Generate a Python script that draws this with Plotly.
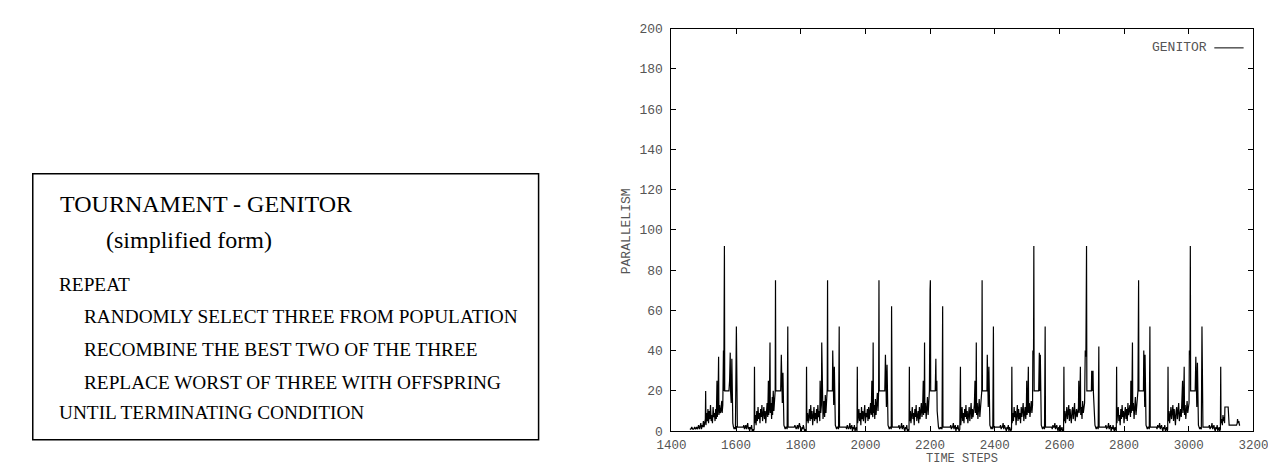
import plotly.graph_objects as go

# ---------------- data ----------------
t_c1 = [1457,1460,1463,1466,1469,1472,1475,1478,1481,1484,1487,1489,1491,1493,1495,1497,1499,1501,1503,1505,1506,1507,1509,1511,1513,1515,1517,1519,1521,1523,1525,1527,1529,1531,1533,1535,1537,1539,1541,1542,1544,1546,1547,1549,1551,1553,1555,1556,1557,1559,1561,1562,1564,1565,1576,1578,1580,1582,1583,1585,1587,1588,1590,1592,1594,1596,1598,1601,1602,1604,1610,1616,1620,1622,1624,1626,1628,1630,1632,1634,1636,1638,1640,1642,1644,1646,1648,1650,1652,1654]
v_c1 = [1,1,2,1,1,2,1,2,1,3,1,2,4,1,3,2,5,2,4,6,20,3,9,5,11,4,10,6,13,5,8,4,12,7,9,5,11,6,25,7,12,37,8,13,9,10,14,15,9,13,40,20,92,20,20,20,25,39,20,14,36,10,4,2,1,2,1,52,2,2,2,2,2,2,3,1,2,3,1,2,4,1,2,0,2,1,3,0,1,0]

t_c2 = [1656,1657,1658,1660,1662,1664,1666,1668,1670,1672,1674,1676,1678,1680,1682,1684,1686,1688,1690,1692,1694,1696,1698,1700,1701,1703,1705,1706,1708,1710,1712,1713,1715,1717,1719,1721,1722,1723,1734,1736,1738,1740,1741,1743,1745,1746,1748,1750,1752,1754,1756,1758,1760,1761,1763,1770,1776,1780,1782,1784,1786,1788,1790,1792,1794,1796,1798,1800,1802,1804,1806,1808,1810,1812,1814,1816]
v_c2 = [1,32,4,8,3,10,5,12,6,9,4,11,7,13,5,8,12,6,10,4,9,14,7,25,8,12,44,9,14,6,17,8,20,10,15,20,75,20,20,20,20,38,20,14,29,8,3,2,1,2,2,1,52,2,2,2,2,2,3,2,1,2,3,1,2,4,2,1,0,2,1,3,1,0,1,0]

t_c3 = [1817,1818,1819,1821,1823,1825,1827,1829,1831,1833,1835,1837,1839,1841,1843,1845,1847,1849,1851,1853,1855,1857,1859,1860,1862,1864,1865,1867,1869,1871,1872,1874,1876,1878,1880,1882,1883,1884,1896,1898,1899,1900,1902,1904,1905,1907,1909,1911,1913,1915,1917,1919,1920,1922,1930,1936,1940,1942,1944,1946,1948,1950,1952,1954,1956,1958,1960,1962,1964,1966,1968,1970,1972,1974]
v_c3 = [0,32,5,9,4,7,11,5,13,6,10,3,8,12,5,9,6,11,4,13,7,10,5,25,9,13,44,10,6,12,15,7,18,9,14,21,75,20,20,20,40,20,13,32,9,3,2,1,2,2,1,52,2,2,2,2,2,1,3,2,1,2,4,1,2,3,0,2,1,3,0,1,2,0]

t_c4 = [1975,1976,1978,1980,1982,1984,1986,1988,1990,1992,1994,1996,1998,2000,2002,2004,2006,2008,2010,2012,2014,2016,2018,2020,2021,2023,2024,2025,2027,2029,2031,2033,2035,2037,2039,2041,2042,2043,2056,2058,2060,2062,2063,2065,2067,2068,2070,2072,2074,2076,2078,2080,2081,2083,2090,2096,2100,2102,2104,2106,2108,2110,2112,2114,2116,2118,2120,2122,2124,2126,2128,2130,2132,2134]
v_c4 = [32,4,7,11,5,9,3,12,6,10,5,8,13,4,9,7,11,5,12,6,9,14,8,25,10,7,44,9,13,6,16,8,12,19,10,20,75,20,20,20,20,38,20,12,33,8,3,2,1,2,2,1,62,2,2,2,2,2,3,1,2,2,4,1,2,3,1,0,2,1,3,0,1,0]

t_c5 = [2135,2136,2137,2139,2141,2143,2145,2147,2149,2151,2153,2155,2157,2159,2161,2163,2165,2167,2169,2171,2173,2175,2177,2179,2180,2182,2183,2184,2186,2188,2190,2192,2194,2196,2198,2200,2201,2202,2214,2216,2218,2219,2221,2222,2224,2226,2228,2230,2232,2234,2236,2237,2239,2240,2242,2250,2256,2260,2262,2264,2266,2268,2270,2272,2274,2276,2278,2280,2282,2284,2286,2288,2290,2292]
v_c5 = [1,32,5,10,4,8,12,6,9,3,11,7,13,5,8,10,4,12,6,9,14,7,11,25,8,12,44,9,14,6,10,17,8,13,20,70,75,20,20,20,36,20,25,10,3,2,1,2,2,1,2,1,62,2,2,2,2,2,2,3,1,2,2,4,1,2,3,0,2,1,3,1,0,1]

t_c6 = [2294,2295,2297,2299,2301,2303,2305,2307,2309,2311,2313,2315,2317,2319,2321,2323,2325,2327,2329,2331,2333,2335,2337,2339,2340,2342,2343,2344,2346,2348,2350,2352,2354,2356,2358,2360,2361,2362,2374,2376,2377,2378,2380,2382,2383,2385,2387,2389,2391,2393,2394,2396,2397,2399,2405,2412,2416,2418,2420,2422,2424,2426,2428,2430,2432,2434,2436,2438,2440,2442,2444,2446,2448,2450,2452]
v_c6 = [32,3,8,12,5,9,4,11,7,13,6,10,4,8,12,5,9,14,6,11,7,10,13,25,9,12,44,8,14,6,10,16,7,12,19,20,75,20,20,20,38,20,12,32,9,3,2,1,2,2,1,52,2,2,2,2,2,3,1,2,2,4,1,3,2,1,0,2,1,3,0,2,1,0,1]

t_c7 = [2453,2454,2456,2458,2460,2462,2464,2466,2468,2470,2472,2474,2476,2478,2480,2482,2484,2486,2488,2490,2492,2494,2496,2498,2499,2500,2502,2504,2505,2507,2509,2511,2513,2515,2517,2518,2520,2521,2522,2534,2536,2538,2539,2541,2542,2544,2546,2548,2550,2552,2554,2556,2557,2559,2565,2572,2576,2578,2580,2582,2584,2586,2588,2590,2592,2594,2596,2598,2600,2602,2604,2606,2608,2610,2612]
v_c7 = [32,4,9,5,12,7,10,3,8,13,5,11,6,9,4,12,7,10,14,5,9,12,6,13,25,8,11,32,9,14,7,10,15,9,13,40,38,92,20,20,20,39,20,38,11,3,2,1,2,2,1,52,2,2,2,2,2,1,3,2,2,4,1,2,3,1,0,2,1,3,0,1,2,0,1]

t_c8 = [2613,2614,2615,2617,2619,2621,2623,2625,2627,2629,2631,2633,2635,2637,2639,2641,2643,2645,2647,2649,2651,2653,2655,2657,2659,2660,2661,2663,2665,2666,2668,2670,2672,2674,2676,2678,2680,2682,2684,2685,2697,2699,2700,2701,2703,2704,2705,2706,2708,2710,2712,2714,2716,2718,2720,2722,2723,2725,2732,2738,2742,2744,2746,2748,2750,2752,2754,2756,2758,2760,2762,2764,2766,2768,2770,2772,2774,2776]
v_c8 = [0,32,5,10,4,8,12,6,9,13,5,11,7,4,10,12,6,9,14,5,8,11,7,10,12,25,9,13,32,8,12,6,15,9,11,14,40,37,92,20,20,20,30,20,28,30,20,15,6,3,2,1,2,2,1,42,2,2,2,2,2,3,1,2,2,4,1,2,3,0,2,1,3,1,0,2,1,0]

t_c9 = [2777,2778,2780,2782,2784,2786,2788,2790,2792,2794,2796,2798,2800,2802,2804,2806,2808,2810,2812,2814,2816,2818,2820,2821,2822,2824,2826,2827,2829,2831,2833,2835,2837,2839,2841,2843,2845,2846,2858,2860,2861,2862,2864,2865,2866,2868,2870,2872,2874,2876,2878,2880,2881,2883,2890,2896,2900,2902,2904,2906,2908,2910,2912,2914,2916,2918,2920,2922,2924,2926,2928,2930,2932,2934]
v_c9 = [32,4,9,12,5,8,3,11,6,13,7,10,4,9,12,6,11,5,14,8,10,13,7,25,9,12,44,10,14,6,11,17,8,13,19,20,75,20,20,20,40,20,12,38,9,3,2,1,2,2,1,52,2,2,2,2,2,1,3,2,2,4,1,2,3,1,0,2,1,3,0,1,2,0]

t_c10 = [2935,2936,2937,2939,2941,2943,2945,2947,2949,2951,2953,2955,2957,2959,2961,2963,2965,2967,2969,2971,2973,2975,2977,2979,2981,2982,2984,2986,2987,2989,2991,2993,2995,2997,2999,3001,3002,3004,3005,3006,3018,3020,3022,3023,3025,3027,3028,3030,3032,3034,3036,3039,3041,3042,3044,3050,3058,3062,3064,3066,3068,3070,3072,3074,3076,3078,3080,3082,3084,3086,3088,3090,3092,3094,3096,3098]
v_c10 = [1,32,5,10,4,8,12,6,9,13,5,11,7,3,10,12,6,9,14,5,8,11,7,13,25,9,12,32,8,13,6,10,15,9,12,14,40,38,92,20,20,20,37,20,12,34,9,3,2,1,2,1,52,2,2,2,2,2,3,1,2,2,4,1,2,3,1,0,2,1,3,0,1,2,0,1]

t_c11 = [3099,3100,3102,3104,3106,3108,3110,3111,3112,3122,3123,3125,3130,3135,3140,3145,3148,3150,3151,3153,3155,3157,3159]
v_c11 = [32,4,6,3,8,5,7,4,12,12,3,3,3,3,3,3,3,4,6,4,5,3,3]

series_name = "GENITOR"
x_title = "TIME STEPS"
y_title = "PARALLELISM"
x_ticks = [1400, 1600, 1800, 2000, 2200, 2400, 2600, 2800, 3000, 3200]
y_ticks = [0, 20, 40, 60, 80, 100, 120, 140, 160, 180, 200]

box_title = "TOURNAMENT - GENITOR"
box_subtitle = "(simplified form)"
box_lines = ["REPEAT",
             "RANDOMLY SELECT THREE FROM POPULATION",
             "RECOMBINE THE BEST TWO OF THE THREE",
             "REPLACE WORST OF THREE WITH OFFSPRING",
             "UNTIL TERMINATING CONDITION"]
box_indent = [False, True, True, True, False]

# ---------------- assemble ----------------
t_all, v_all = [], []
for t, v in [(t_c1, v_c1), (t_c2, v_c2), (t_c3, v_c3), (t_c4, v_c4), (t_c5, v_c5),
             (t_c6, v_c6), (t_c7, v_c7), (t_c8, v_c8), (t_c9, v_c9), (t_c10, v_c10),
             (t_c11, v_c11)]:
    t_all += t
    v_all += v

W, H = 1276, 467
def px(x):
    return x / W
def py(y):
    return 1 - y / H

fig = go.Figure()
fig.add_trace(go.Scatter(x=t_all, y=v_all, mode="lines", name=series_name,
                         line=dict(color="black", width=1.2), showlegend=False))

mono = "Liberation Mono, Courier New, monospace"
serif = "Liberation Serif, Times New Roman, serif"
lab_font = dict(family=mono, size=13, color="#555")
axis_common = dict(showline=True, linecolor="black", linewidth=1, mirror="allticks",
                   ticks="inside", ticklen=5, tickcolor="black", showgrid=False,
                   zeroline=False)

fig.update_layout(
    width=W, height=H, margin=dict(l=0, r=0, t=0, b=0),
    paper_bgcolor="white", plot_bgcolor="white",
    xaxis=dict(domain=[px(664), px(1260)], range=[1400, 3200], tickvals=x_ticks,
               ticklabelstandoff=2, tickfont=dict(family=mono, size=12.5, color="#555"),
               **axis_common),
    yaxis=dict(domain=[py(431), py(15)], range=[0, 200], tickvals=y_ticks,
               ticklabelstandoff=5, tickfont=lab_font, **axis_common),
)

# axis titles
fig.add_annotation(xref="paper", yref="paper", x=px(962), y=py(460), text=x_title,
                   showarrow=False, xanchor="center", yanchor="middle", borderpad=0,
                   font=dict(family=mono, size=12, color="#555"))
fig.add_annotation(xref="paper", yref="paper", x=px(618), y=py(224), text=y_title,
                   showarrow=False, xanchor="center", yanchor="middle", textangle=-90,
                   font=lab_font)

# legend (gnuplot style: text then line sample)
fig.add_annotation(xref="paper", yref="paper", x=px(1215), y=py(35), text=series_name,
                   showarrow=False, xanchor="right", yanchor="middle", font=lab_font)
fig.add_shape(type="line", xref="paper", yref="paper", x0=px(1220), x1=px(1250),
              y0=py(35), y1=py(35), line=dict(color="black", width=1))

# algorithm box
fig.add_shape(type="rect", xref="paper", yref="paper", x0=px(10), x1=px(528),
              y0=py(440), y1=py(165), line=dict(color="black", width=1.5))
fig.add_annotation(xref="paper", yref="paper", x=px(36), y=py(196), text=box_title,
                   showarrow=False, xanchor="left", yanchor="middle",
                   font=dict(family=serif, size=24, color="black"))
fig.add_annotation(xref="paper", yref="paper", x=px(83), y=py(233), text=box_subtitle,
                   showarrow=False, xanchor="left", yanchor="middle",
                   font=dict(family=serif, size=24, color="black"))
ys = [279, 313, 347, 381, 412]
for line, ind, yy in zip(box_lines, box_indent, ys):
    fig.add_annotation(xref="paper", yref="paper", x=px(60 if ind else 35), y=py(yy), text=line,
                       showarrow=False, xanchor="left", yanchor="middle",
                       font=dict(family=serif, size=19.3, color="black"))

fig.write_html("out.html")
